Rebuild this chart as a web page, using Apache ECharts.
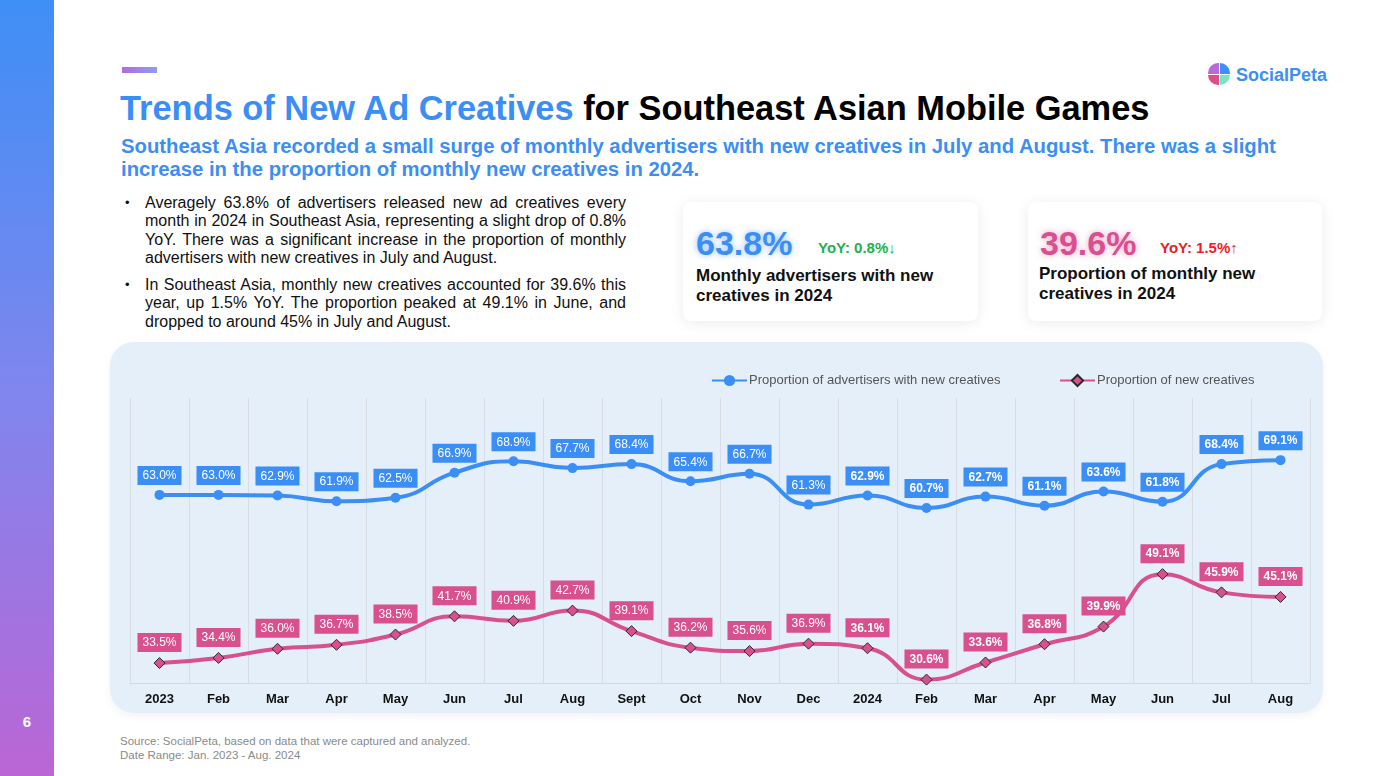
<!DOCTYPE html>
<html>
<head>
<meta charset="utf-8">
<script src="https://cdn.jsdelivr.net/npm/echarts@6/dist/echarts.min.js"></script>
<style>
  html,body{margin:0;padding:0;background:#fff;}
  body{width:1380px;height:776px;position:relative;overflow:hidden;font-family:Arial,"Liberation Sans",Helvetica,sans-serif;}
  .abs{position:absolute;}
  #sidebar{left:0;top:0;width:54px;height:776px;background:linear-gradient(180deg,#3e8ff6 0%,#7f86ee 50%,#bb66d5 100%);}
  #pageno{left:0;width:54px;top:712px;line-height:20px;text-align:center;color:#fff;font-weight:bold;font-size:15px;}
  #accent{left:122px;top:67px;width:35px;height:6px;background:linear-gradient(90deg,#b26ae0,#8c9ef2);}
  #title{left:120px;top:89px;font-size:34.4px;line-height:38px;font-weight:bold;color:#000;white-space:nowrap;}
  #title .b{color:#3a8ef6;}
  #subtitle{left:121px;top:135px;width:1190px;font-size:20.3px;line-height:23px;font-weight:bold;color:#3a8ef6;}
  #bullets{left:125px;top:194px;width:501px;font-size:16px;line-height:18.3px;color:#111;}
  #bullets .it{position:relative;padding-left:20px;text-align:justify;margin-bottom:9px;}
  #bullets .it:before{content:"\2022";position:absolute;left:0;top:0;font-size:13px;}
  .card{background:#fff;border-radius:8px;box-shadow:0 2px 14px rgba(0,0,0,0.08);}
  .big{font-size:34px;line-height:38px;font-weight:bold;}
  .yoy{font-size:15px;line-height:18px;font-weight:bold;}
  .ctext{font-size:17px;line-height:20px;font-weight:bold;color:#111;}
  #logoicon{left:1208px;top:63px;width:22px;height:22px;}
  #logoicon div{position:absolute;width:10.5px;height:10.5px;}
  #logotext{left:1236px;top:64px;font-size:18px;line-height:22px;font-weight:bold;color:#3b8ff6;}
  #panel{left:110px;top:342px;width:1213px;height:371px;border-radius:24px;background:#e5eff9;box-shadow:0 3px 8px rgba(0,0,0,0.05);}
  #chart{left:110px;top:342px;width:1213px;height:371px;}
  #source{left:120px;top:734px;font-size:11.5px;line-height:14px;color:#8a8a8a;}
</style>
</head>
<body>
<div id="sidebar" class="abs"></div>
<div id="pageno" class="abs">6</div>
<div id="accent" class="abs"></div>
<div id="title" class="abs"><span class="b">Trends of New Ad Creatives</span> for Southeast Asian Mobile Games</div>
<div id="subtitle" class="abs">Southeast Asia recorded a small surge of monthly advertisers with new creatives in July and August. There was a slight increase in the proportion of monthly new creatives in 2024.</div>
<div id="bullets" class="abs">
  <div class="it">Averagely 63.8% of advertisers released new ad creatives every month in 2024 in Southeast Asia, representing a slight drop of 0.8% YoY. There was a significant increase in the proportion of monthly advertisers with new creatives in July and August.</div>
  <div class="it">In Southeast Asia, monthly new creatives accounted for 39.6% this year, up 1.5% YoY. The proportion peaked at 49.1% in June, and dropped to around 45% in July and August.</div>
</div>

<div class="abs card" style="left:683px;top:202px;width:295px;height:119px;"></div>
<div class="abs big" style="left:696px;top:224px;color:#3a8ef6;text-shadow:0 0 6px rgba(58,142,246,0.55);">63.8%</div>
<div class="abs yoy" style="left:818px;top:239px;color:#22b14c;">YoY: 0.8%↓</div>
<div class="abs ctext" style="left:696px;top:266px;">Monthly advertisers with new<br>creatives in 2024</div>

<div class="abs card" style="left:1028px;top:202px;width:294px;height:119px;"></div>
<div class="abs big" style="left:1040px;top:224px;color:#d94f90;text-shadow:0 0 6px rgba(217,79,144,0.5);">39.6%</div>
<div class="abs yoy" style="left:1160px;top:239px;color:#ee1c24;">YoY: 1.5%↑</div>
<div class="abs ctext" style="left:1039px;top:264px;">Proportion of monthly new<br>creatives in 2024</div>

<div id="logoicon" class="abs">
  <div style="left:0;top:0;background:#b86ad9;border-top-left-radius:10px;"></div>
  <div style="left:11.5px;top:0;background:#3e8ef7;border-top-right-radius:10px;"></div>
  <div style="left:0;top:11.5px;background:#dc4f8b;border-bottom-left-radius:10px;"></div>
  <div style="left:11.5px;top:11.5px;background:#7ae3c6;border-bottom-right-radius:10px;"></div>
</div>
<div id="logotext" class="abs">SocialPeta</div>

<div id="panel" class="abs"></div>
<div id="chart" class="abs"></div>
<div id="source" class="abs">Source: SocialPeta, based on data that were captured and analyzed.<br>Date Range: Jan. 2023 - Aug. 2024</div>

<script>
const categories = ['2023','Feb','Mar','Apr','May','Jun','Jul','Aug','Sept','Oct','Nov','Dec','2024','Feb','Mar','Apr','May','Jun','Jul','Aug'];
const advertisersSeries = [63.0,63.0,62.9,61.9,62.5,66.9,68.9,67.7,68.4,65.4,66.7,61.3,62.9,60.7,62.7,61.1,63.6,61.8,68.4,69.1];
const creativesSeries = [33.5,34.4,36.0,36.7,38.5,41.7,40.9,42.7,39.1,36.2,35.6,36.9,36.1,30.6,33.6,36.8,39.9,49.1,45.9,45.1];
const seriesNames = ['Proportion of advertisers with new creatives','Proportion of new creatives'];
const firstIndex2024 = categories.indexOf('2024');

const BLUE = '#3a8ef6', PINK = '#d8508e';
function toItems(arr){
  return arr.map((v,i)=>({value:v,label:{fontWeight: i>=firstIndex2024 ? 'bold' : 'normal'}}));
}
const labelBase = {
  show:true, position:'top', distance:5, color:'#fff', fontSize:12,
  fontFamily:'Arial, "Liberation Sans", sans-serif', padding:[3,5,2,5], lineHeight:14,
  formatter:p=>p.value.toFixed(1)+'%'
};
const chart = echarts.init(document.getElementById('chart'));
chart.setOption({
  animation:false,
  textStyle:{fontFamily:'Arial, "Liberation Sans", sans-serif'},
  legend:[
    {data:[seriesNames[0]], left:596, top:27, itemWidth:35, itemHeight:14, itemGap:0,
     textStyle:{color:'#555',fontSize:13,padding:[0,0,0,-3]}},
    {data:[seriesNames[1]], left:944, top:27, itemWidth:35, itemHeight:14, itemGap:0,
     textStyle:{color:'#555',fontSize:13,padding:[0,0,0,-3]}}
  ],
  grid:{left:20,right:13,top:56,bottom:30},
  xAxis:{
    type:'category', data:categories, boundaryGap:true,
    axisTick:{show:false},
    axisLine:{lineStyle:{color:'#d3d9df'}},
    splitLine:{show:true, interval:0, lineStyle:{color:'#d7dde3',width:1}},
    axisLabel:{interval:0, color:'#111', fontWeight:'bold', fontSize:13, margin:10}
  },
  yAxis:{type:'value', min:30, max:80, show:false, splitLine:{show:false}},
  series:[
    {name:seriesNames[0], type:'line', data:toItems(advertisersSeries), smooth:0.5,
     symbol:'circle', symbolSize:10,
     lineStyle:{color:BLUE,width:4}, itemStyle:{color:BLUE},
     label:Object.assign({},labelBase,{backgroundColor:BLUE})},
    {name:seriesNames[1], type:'line', data:toItems(creativesSeries), smooth:0.5,
     symbol:'diamond', symbolSize:11,
     lineStyle:{color:PINK,width:4}, itemStyle:{color:PINK,borderColor:'#2a2a2a',borderWidth:1},
     label:Object.assign({},labelBase,{backgroundColor:PINK})}
  ]
});
</script>
</body>
</html>
